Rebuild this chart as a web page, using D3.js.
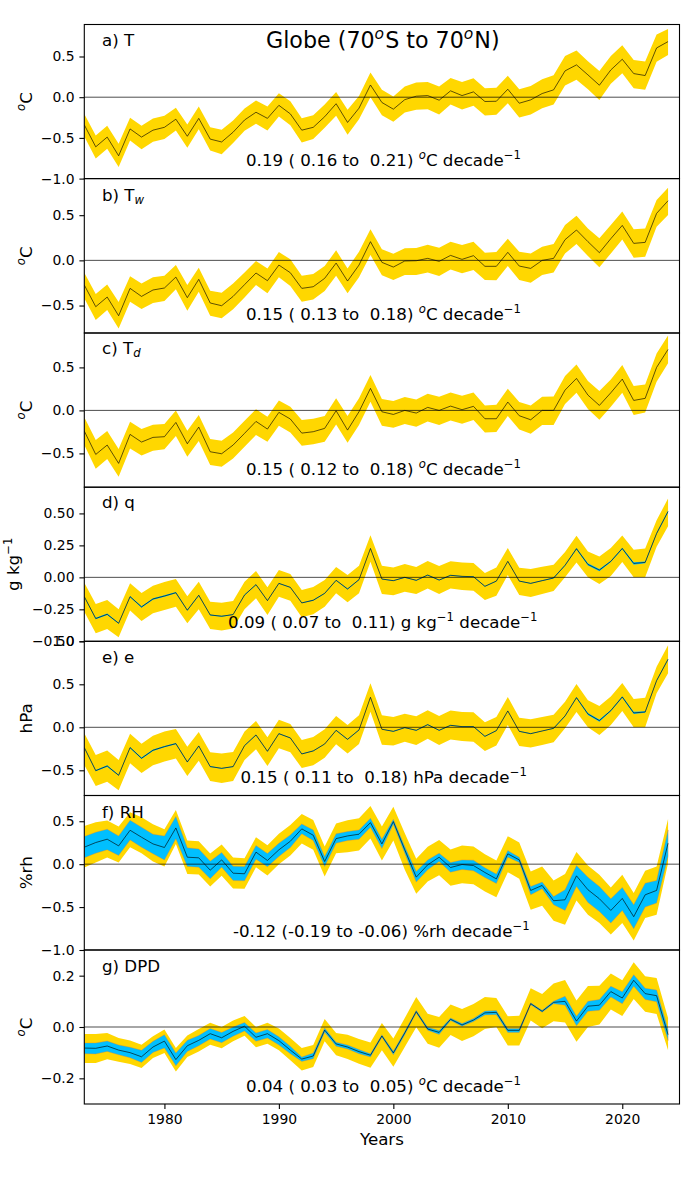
<!DOCTYPE html>
<html>
<head>
<meta charset="utf-8">
<script src="https://cdn.jsdelivr.net/npm/d3@7"></script>
<style>
  html, body { margin: 0; padding: 0; background: #fff; }
  text { font-family: "DejaVu Sans", sans-serif; fill: #000; }
</style>
</head>
<body>
<script>
// Read the data (1973-2024)
var years = d3.range(1973, 2025);
var xTicks = [1980, 1990, 2000, 2010, 2020];

// a) T
var aMid = [-0.34,-0.61,-0.49,-0.72,-0.39,-0.49,-0.405,-0.37,-0.27,-0.48,-0.26,-0.515,-0.55,-0.43,-0.28,-0.185,-0.26,-0.10,-0.205,-0.405,-0.37,-0.24,-0.08,-0.31,-0.135,0.15,-0.065,-0.147,-0.03,0.012,0.02,-0.037,0.078,0.02,0.065,-0.053,-0.05,0.098,-0.074,-0.033,0.045,0.09,0.323,0.397,0.274,0.147,0.335,0.466,0.29,0.266,0.605,0.683];
var aHi = [-0.205,-0.47,-0.352,-0.573,-0.254,-0.352,-0.262,-0.229,-0.131,-0.335,-0.115,-0.368,-0.40,-0.286,-0.139,-0.041,-0.115,0.049,-0.049,-0.258,-0.221,-0.09,0.065,-0.155,0.016,0.303,0.09,0.008,0.131,0.18,0.188,0.131,0.237,0.188,0.233,0.11,0.115,0.262,0.098,0.139,0.221,0.27,0.507,0.573,0.442,0.323,0.507,0.638,0.458,0.438,0.769,0.838];
var aLo = [-0.483,-0.753,-0.634,-0.859,-0.532,-0.638,-0.548,-0.515,-0.409,-0.622,-0.393,-0.654,-0.70,-0.564,-0.413,-0.327,-0.409,-0.237,-0.344,-0.556,-0.515,-0.376,-0.229,-0.462,-0.27,0,-0.221,-0.303,-0.188,-0.155,-0.147,-0.213,-0.09,-0.151,-0.106,-0.225,-0.217,-0.074,-0.25,-0.213,-0.135,-0.09,0.143,0.213,0.098,-0.033,0.164,0.294,0.11,0.09,0.434,0.519];

// b) Tw
var bMid = [-0.273,-0.513,-0.406,-0.613,-0.31,-0.399,-0.328,-0.306,-0.185,-0.413,-0.21,-0.472,-0.502,-0.399,-0.269,-0.14,-0.225,-0.052,-0.137,-0.31,-0.292,-0.199,-0.03,-0.229,-0.052,0.207,-0.022,-0.074,-0.007,-0.004,0.022,-0.011,0.055,0.011,0.052,-0.066,-0.066,0.089,-0.063,-0.089,0,0.022,0.229,0.336,0.207,0.085,0.24,0.387,0.188,0.199,0.52,0.66];
var bHi = [-0.137,-0.373,-0.266,-0.461,-0.177,-0.255,-0.188,-0.17,-0.052,-0.273,-0.081,-0.336,-0.358,-0.255,-0.133,-0.007,-0.089,0.092,0.011,-0.17,-0.151,-0.063,0.111,-0.089,0.096,0.343,0.122,0.074,0.133,0.137,0.173,0.14,0.207,0.17,0.207,0.085,0.092,0.24,0.096,0.077,0.151,0.181,0.391,0.494,0.354,0.244,0.391,0.542,0.343,0.354,0.668,0.804];
var bLo = [-0.42,-0.66,-0.55,-0.753,-0.458,-0.539,-0.472,-0.45,-0.321,-0.557,-0.347,-0.613,-0.642,-0.542,-0.41,-0.273,-0.365,-0.188,-0.284,-0.458,-0.432,-0.34,-0.17,-0.365,-0.188,0.059,-0.166,-0.218,-0.162,-0.162,-0.133,-0.173,-0.10,-0.144,-0.107,-0.218,-0.221,-0.063,-0.218,-0.247,-0.162,-0.133,0.077,0.181,0.048,-0.077,0.077,0.232,0.03,0.04,0.373,0.502];

// c) Td
var cMid = [-0.24,-0.512,-0.403,-0.616,-0.279,-0.368,-0.314,-0.306,-0.14,-0.388,-0.194,-0.481,-0.504,-0.403,-0.267,-0.128,-0.217,-0.023,-0.10,-0.264,-0.248,-0.209,-0.004,-0.229,-0.015,0.256,-0.016,-0.047,0,-0.031,0.035,0,0.05,0.008,0.047,-0.097,-0.097,0.097,-0.062,-0.109,0,0,0.236,0.372,0.178,0.058,0.205,0.364,0.116,0.14,0.5,0.709];
var cHi = [-0.081,-0.345,-0.24,-0.45,-0.132,-0.217,-0.167,-0.159,0,-0.236,-0.054,-0.333,-0.353,-0.256,-0.12,0.012,-0.074,0.116,0.043,-0.112,-0.097,-0.066,0.14,-0.066,0.14,0.411,0.132,0.109,0.155,0.128,0.194,0.159,0.209,0.171,0.209,0.058,0.066,0.252,0.097,0.058,0.159,0.163,0.399,0.535,0.341,0.225,0.36,0.527,0.283,0.302,0.663,0.872];
var cLo = [-0.403,-0.678,-0.566,-0.771,-0.442,-0.523,-0.469,-0.453,-0.298,-0.539,-0.357,-0.636,-0.655,-0.558,-0.422,-0.287,-0.364,-0.178,-0.256,-0.411,-0.395,-0.364,-0.163,-0.376,-0.171,0.101,-0.178,-0.202,-0.159,-0.19,-0.128,-0.171,-0.116,-0.155,-0.112,-0.256,-0.252,-0.066,-0.221,-0.271,-0.171,-0.171,0.074,0.205,0.016,-0.109,0.043,0.205,-0.054,-0.023,0.333,0.547];

// d) q
var dMid = [-0.151,-0.322,-0.289,-0.359,-0.151,-0.231,-0.169,-0.146,-0.12,-0.257,-0.14,-0.294,-0.304,-0.291,-0.138,-0.057,-0.182,-0.047,-0.078,-0.20,-0.179,-0.125,-0.023,-0.091,-0.018,0.226,-0.013,-0.026,0,-0.023,0.018,-0.021,0.016,0.008,0.005,-0.07,-0.029,0.125,-0.029,-0.047,-0.026,-0.005,0.094,0.224,0.101,0.057,0.125,0.226,0.109,0.117,0.343,0.515];
var dHi = [-0.042,-0.208,-0.177,-0.25,-0.047,-0.122,-0.065,-0.036,-0.013,-0.148,-0.034,-0.19,-0.198,-0.185,-0.034,0.049,-0.078,0.057,0.026,-0.099,-0.075,-0.021,0.081,0.018,0.091,0.33,0.091,0.078,0.104,0.081,0.127,0.088,0.125,0.117,0.112,0.034,0.078,0.229,0.075,0.065,0.083,0.099,0.198,0.325,0.203,0.164,0.229,0.328,0.216,0.226,0.447,0.616];
var dLo = [-0.268,-0.437,-0.403,-0.468,-0.26,-0.341,-0.281,-0.255,-0.229,-0.359,-0.25,-0.403,-0.416,-0.40,-0.25,-0.164,-0.294,-0.151,-0.182,-0.312,-0.289,-0.229,-0.125,-0.195,-0.125,0.122,-0.13,-0.14,-0.112,-0.13,-0.088,-0.13,-0.088,-0.099,-0.104,-0.177,-0.143,0.018,-0.138,-0.153,-0.13,-0.107,0,0.117,0,-0.052,0.01,0.12,0,0,0.24,0.40];
var dBlueHi = [-0.147,-0.316,-0.283,-0.355,-0.146,-0.225,-0.163,-0.14,-0.115,-0.253,-0.136,-0.29,-0.30,-0.288,-0.134,-0.054,-0.179,-0.044,-0.075,-0.197,-0.176,-0.122,-0.02,-0.088,-0.015,0.229,-0.01,-0.023,0.003,-0.02,0.021,-0.018,0.019,0.011,0.008,-0.067,-0.026,0.128,-0.026,-0.044,-0.023,-0.002,0.098,0.23,0.11,0.066,0.13,0.232,0.119,0.124,0.348,0.522];
var dBlueLo = [-0.155,-0.328,-0.295,-0.363,-0.156,-0.237,-0.175,-0.152,-0.125,-0.261,-0.144,-0.298,-0.308,-0.294,-0.142,-0.06,-0.185,-0.05,-0.081,-0.203,-0.182,-0.128,-0.026,-0.094,-0.021,0.223,-0.016,-0.029,-0.003,-0.026,0.015,-0.024,0.013,0.005,0.002,-0.073,-0.032,0.122,-0.032,-0.05,-0.029,-0.008,0.09,0.218,0.092,0.048,0.12,0.22,0.099,0.11,0.338,0.508];

// e) e
var eMid = [-0.236,-0.504,-0.45,-0.558,-0.236,-0.36,-0.267,-0.225,-0.19,-0.403,-0.217,-0.457,-0.477,-0.457,-0.213,-0.089,-0.279,-0.074,-0.124,-0.31,-0.275,-0.194,-0.035,-0.14,-0.031,0.349,-0.023,-0.047,-0.004,-0.035,0.031,-0.035,0.023,0.008,0.008,-0.105,-0.039,0.19,-0.047,-0.074,-0.043,-0.012,0.132,0.345,0.155,0.078,0.194,0.353,0.167,0.178,0.543,0.791];
var eHi = [-0.07,-0.322,-0.271,-0.38,-0.074,-0.19,-0.097,-0.05,-0.019,-0.225,-0.054,-0.291,-0.306,-0.287,-0.05,0.074,-0.116,0.089,0.039,-0.147,-0.112,-0.023,0.132,0.027,0.14,0.512,0.14,0.12,0.159,0.128,0.198,0.132,0.194,0.178,0.174,0.058,0.12,0.353,0.112,0.093,0.12,0.147,0.298,0.504,0.314,0.248,0.357,0.516,0.329,0.345,0.705,0.953];
var eLo = [-0.438,-0.682,-0.632,-0.733,-0.419,-0.531,-0.442,-0.399,-0.364,-0.566,-0.388,-0.624,-0.647,-0.624,-0.38,-0.256,-0.45,-0.244,-0.291,-0.473,-0.442,-0.353,-0.198,-0.306,-0.194,0.182,-0.202,-0.213,-0.167,-0.205,-0.132,-0.205,-0.143,-0.159,-0.167,-0.275,-0.213,0.027,-0.217,-0.236,-0.205,-0.174,-0.012,0.178,0,-0.089,0.027,0.19,0,0,0.395,0.628];
var eBlueHi = [-0.23,-0.496,-0.442,-0.552,-0.228,-0.352,-0.259,-0.217,-0.183,-0.397,-0.211,-0.451,-0.472,-0.452,-0.208,-0.085,-0.275,-0.07,-0.12,-0.306,-0.271,-0.19,-0.031,-0.136,-0.027,0.353,-0.019,-0.043,0,-0.031,0.035,-0.031,0.027,0.012,0.012,-0.101,-0.035,0.194,-0.043,-0.07,-0.039,-0.008,0.137,0.353,0.167,0.09,0.2,0.361,0.18,0.188,0.55,0.8];
var eBlueLo = [-0.242,-0.512,-0.458,-0.564,-0.244,-0.368,-0.275,-0.233,-0.197,-0.409,-0.223,-0.463,-0.482,-0.462,-0.218,-0.093,-0.283,-0.078,-0.128,-0.314,-0.279,-0.198,-0.039,-0.144,-0.035,0.345,-0.027,-0.051,-0.008,-0.039,0.027,-0.039,0.019,0.004,0.004,-0.109,-0.043,0.186,-0.051,-0.078,-0.047,-0.016,0.127,0.337,0.143,0.066,0.188,0.345,0.154,0.168,0.536,0.782];

// f) RH
var fMid = [0.198,0.252,0.291,0.213,0.395,0.314,0.236,0.194,0.422,0.081,0.074,-0.07,0.05,-0.105,-0.112,0.14,0.043,0.167,0.267,0.411,0.337,0.031,0.298,0.329,0.349,0.484,0.236,0.496,0.167,-0.151,-0.008,0.081,-0.039,-0.004,-0.016,-0.097,-0.171,0.12,0.05,-0.306,-0.248,-0.426,-0.415,-0.136,-0.298,-0.403,-0.539,-0.399,-0.612,-0.357,-0.306,0.244];
var fHi = [0.446,0.488,0.508,0.438,0.605,0.547,0.465,0.407,0.632,0.275,0.267,0.124,0.229,0.078,0.07,0.314,0.221,0.353,0.457,0.585,0.516,0.205,0.473,0.512,0.535,0.678,0.438,0.67,0.36,0.062,0.202,0.283,0.171,0.217,0.205,0.116,0.043,0.326,0.252,-0.085,-0.027,-0.19,-0.116,0.143,-0.016,-0.124,-0.271,-0.124,-0.337,-0.078,-0.027,0.527];
var fLo = [-0.039,0.019,0.078,0.019,0.198,0.128,0.031,-0.027,0.236,-0.116,-0.12,-0.26,-0.136,-0.283,-0.287,-0.035,-0.132,0,0.101,0.24,0.167,-0.143,0.128,0.14,0.159,0.298,0.043,0.275,-0.066,-0.345,-0.202,-0.128,-0.252,-0.221,-0.233,-0.318,-0.384,-0.093,-0.171,-0.531,-0.484,-0.659,-0.706,-0.423,-0.589,-0.686,-0.82,-0.686,-0.888,-0.628,-0.589,0.012];
var fBlueHi = [0.322,0.372,0.407,0.329,0.512,0.43,0.349,0.329,0.554,0.19,0.178,0.035,0.136,-0.023,-0.027,0.217,0.124,0.244,0.341,0.469,0.399,0.089,0.353,0.38,0.399,0.535,0.291,0.523,0.205,-0.085,0.05,0.128,0.019,0.05,0.047,-0.043,-0.116,0.159,0.081,-0.26,-0.209,-0.376,-0.298,-0.016,-0.151,-0.26,-0.403,-0.271,-0.473,-0.221,-0.19,0.399];
var fBlueLo = [0.074,0.128,0.167,0.101,0.283,0.198,0.12,0.05,0.295,-0.027,-0.035,-0.171,-0.035,-0.19,-0.194,0.058,-0.031,0.089,0.194,0.353,0.275,-0.027,0.244,0.275,0.291,0.43,0.182,0.465,0.128,-0.209,-0.066,0.031,-0.093,-0.062,-0.078,-0.155,-0.225,0.081,0.019,-0.357,-0.287,-0.473,-0.539,-0.26,-0.446,-0.55,-0.686,-0.539,-0.751,-0.50,-0.453,0.089];

// g) DPD
var gMid = [-0.082,-0.083,-0.074,-0.09,-0.10,-0.116,-0.078,-0.055,-0.127,-0.073,-0.052,-0.026,-0.042,-0.017,0.003,-0.04,-0.026,-0.053,-0.09,-0.125,-0.113,-0.012,-0.066,-0.078,-0.096,-0.11,-0.035,-0.101,-0.023,0.06,-0.008,-0.021,0.03,0.008,0.027,0.055,0.057,-0.013,-0.013,0.091,0.061,0.096,0.10,0.023,0.081,0.085,0.138,0.113,0.182,0.13,0.122,-0.03];
var gHi = [-0.027,-0.027,-0.023,-0.043,-0.053,-0.069,-0.036,-0.01,-0.082,-0.033,-0.008,0.017,0,0.025,0.043,0,0.017,-0.006,-0.043,-0.082,-0.07,0.031,-0.023,-0.03,-0.047,-0.06,0.016,-0.045,0.035,0.117,0.052,0.039,0.088,0.07,0.09,0.117,0.113,0.042,0.044,0.151,0.129,0.169,0.183,0.103,0.16,0.161,0.208,0.182,0.252,0.198,0.191,0.035];
var gLo = [-0.14,-0.14,-0.126,-0.135,-0.144,-0.16,-0.121,-0.101,-0.173,-0.117,-0.095,-0.069,-0.083,-0.056,-0.034,-0.079,-0.065,-0.091,-0.13,-0.169,-0.156,-0.056,-0.11,-0.125,-0.143,-0.159,-0.091,-0.155,-0.078,-0.001,-0.065,-0.081,-0.031,-0.055,-0.036,-0.008,0,-0.072,-0.072,0.025,-0.005,0.022,0.018,-0.057,0,0.01,0.068,0.043,0.109,0.059,0.051,-0.091];
var gBlueHi = [-0.062,-0.062,-0.055,-0.07,-0.079,-0.091,-0.056,-0.03,-0.101,-0.052,-0.033,-0.006,-0.021,0,0.018,-0.023,-0.01,-0.038,-0.075,-0.117,-0.101,-0.004,-0.059,-0.07,-0.088,-0.104,-0.03,-0.094,-0.017,0.065,-0.001,-0.014,0.035,0.014,0.033,0.062,0.064,-0.006,-0.006,0.094,0.065,0.10,0.12,0.042,0.10,0.107,0.159,0.137,0.204,0.151,0.144,-0.01];
var gBlueLo = [-0.104,-0.105,-0.095,-0.108,-0.12,-0.138,-0.099,-0.082,-0.151,-0.095,-0.073,-0.047,-0.061,-0.036,-0.016,-0.056,-0.043,-0.07,-0.104,-0.134,-0.124,-0.02,-0.075,-0.086,-0.104,-0.117,-0.04,-0.108,-0.03,0.055,-0.013,-0.029,0.025,0.003,0.021,0.047,0.048,-0.021,-0.021,0.087,0.057,0.091,0.085,0.005,0.061,0.065,0.117,0.091,0.159,0.107,0.098,-0.053];

// y limits and tick values of each panel
var aLim = [-1.0, 0.893], aTicks = [-1.0, -0.5, 0, 0.5];
var bLim = [-0.804, 0.905], bTicks = [-0.5, 0, 0.5];
var cLim = [-0.893, 0.9], cTicks = [-0.5, 0, 0.5];
var dLim = [-0.5, 0.705], dTicks = [-0.5, -0.25, 0, 0.25, 0.5];
var eLim = [-0.793, 1.0], eTicks = [-0.5, 0, 0.5, 1.0];
var fLim = [-1.0, 0.8], fTicks = [-1.0, -0.5, 0, 0.5];
var gLim = [-0.3, 0.3], gTicks = [-0.2, 0, 0.2];

// Set up size
var width = 700, height = 1200;
var left = 84.3, right = 679.5;
var tops = [24.5, 178.6, 333, 487.2, 641.3, 795.5, 950, 1104];

var sup = function(t) { return {t: t, sup: true}; };
var oC = [sup("o"), "C"];
var dec = [" decade", {t: "\u22121", sup: true, up: true}];

var panels = [
  {label: ["a) T"], unit: oC, mid: aMid, hi: aHi, lo: aLo, lim: aLim, ticks: aTicks, fmt: ".1f",
   trend: ["0.19 ( 0.16 to\u00a0 0.21) "].concat(oC, dec), tx: 246, ty: 166, ly: 46},
  {label: ["b) T", {t: "w", sub: true}], unit: oC, mid: bMid, hi: bHi, lo: bLo, lim: bLim, ticks: bTicks, fmt: ".1f",
   trend: ["0.15 ( 0.13 to\u00a0 0.18) "].concat(oC, dec), tx: 246, ty: 320, ly: 201},
  {label: ["c) T", {t: "d", sub: true}], unit: oC, mid: cMid, hi: cHi, lo: cLo, lim: cLim, ticks: cTicks, fmt: ".1f",
   trend: ["0.15 ( 0.12 to\u00a0 0.18) "].concat(oC, dec), tx: 246, ty: 475, ly: 354},
  {label: ["d) q"], unit: ["g kg", {t: "\u22121", sup: true, up: true}], mid: dMid, hi: dHi, lo: dLo, blueHi: dBlueHi, blueLo: dBlueLo, lim: dLim, ticks: dTicks, fmt: ".2f",
   trend: ["0.09 ( 0.07 to\u00a0 0.11) g kg", {t: "\u22121", sup: true, up: true}].concat(dec), tx: 228, ty: 628, ly: 508, unitX: 19},
  {label: ["e) e"], unit: ["hPa"], mid: eMid, hi: eHi, lo: eLo, blueHi: eBlueHi, blueLo: eBlueLo, lim: eLim, ticks: eTicks, fmt: ".1f",
   trend: ["0.15 ( 0.11 to\u00a0 0.18) hPa"].concat(dec), tx: 240.5, ty: 783, ly: 663},
  {label: ["f) RH"], unit: ["%rh"], mid: fMid, hi: fHi, lo: fLo, blueHi: fBlueHi, blueLo: fBlueLo, edge: true, lim: fLim, ticks: fTicks, fmt: ".1f",
   trend: ["-0.12 (-0.19 to -0.06) %rh"].concat(dec), tx: 233, ty: 937, ly: 818},
  {label: ["g) DPD"], unit: oC, mid: gMid, hi: gHi, lo: gLo, blueHi: gBlueHi, blueLo: gBlueLo, edge: true, lim: gLim, ticks: gTicks, fmt: ".1f",
   trend: ["0.04 ( 0.03 to\u00a0 0.05) "].concat(oC, dec), tx: 246, ty: 1092, ly: 972}
];

var svg = d3.select("body").append("svg")
  .attr("width", width)
  .attr("height", height)
  .style("display", "block");

var x = d3.scaleLinear().domain([1973, 2025]).range([left, right]);

// writes a mix of plain, super and subscript pieces into a text element
function addRuns(sel, runs, size, gap) {
  var back = 0;
  runs.forEach(function(r) {
    if (typeof r === "string") {
      sel.append("tspan").attr("dy", back).attr("dx", back ? (gap || 0) : 0).text(r);
      back = 0;
      return;
    }
    var shift = r.sup ? -0.42 * size : 0.15 * size;
    sel.append("tspan")
      .attr("dy", back + shift)
      .style("font-size", (size * 0.7) + "px")
      .style("font-style", r.up ? "normal" : "italic")
      .text(r.t);
    back = -shift;
  });
}

var tickFont = 13.9, textFont = 16.67;

panels.forEach(function(p, i) {
  var y0 = tops[i], y1 = tops[i + 1];
  var y = d3.scaleLinear().domain(p.lim).range([y1, y0]);
  var g = svg.append("g");

  var clipId = "clip" + i;
  g.append("clipPath").attr("id", clipId)
    .append("rect").attr("x", left).attr("y", y0).attr("width", right - left).attr("height", y1 - y0);
  var plot = g.append("g").attr("clip-path", "url(#" + clipId + ")");

  var band = function(hi, lo) {
    return d3.area().x(function(d, k) { return x(years[k]); })
      .y0(function(d, k) { return y(lo[k]); })
      .y1(function(d, k) { return y(hi[k]); })(years);
  };

  plot.append("path").attr("d", band(p.hi, p.lo)).attr("fill", "#ffd700");
  if (p.blueHi) {
    var blue = plot.append("path").attr("d", band(p.blueHi, p.blueLo)).attr("fill", "#00bfff");
    // thin orange rim where the next band peeks out from under the blue one
    if (p.edge) blue.attr("stroke", "#e8802a").attr("stroke-width", 0.5).attr("stroke-opacity", 0.7);
  }

  // zero line
  plot.append("line")
    .attr("x1", left).attr("x2", right)
    .attr("y1", y(0)).attr("y2", y(0))
    .attr("stroke", "#000").attr("stroke-width", 0.7);

  var line = d3.line().x(function(d, k) { return x(years[k]); }).y(function(d) { return y(d); });
  plot.append("path").attr("d", line(p.mid))
    .attr("fill", "none").attr("stroke", "#000").attr("stroke-width", 0.7).attr("stroke-opacity", 0.9);

  // frame
  g.append("rect")
    .attr("x", left).attr("y", y0)
    .attr("width", right - left).attr("height", y1 - y0)
    .attr("fill", "none").attr("stroke", "#000").attr("stroke-width", 1.1);

  // y axis
  var fmt = d3.format(p.fmt);
  var yAxis = g.append("g")
    .attr("transform", "translate(" + left + ",0)")
    .call(d3.axisLeft(y).tickValues(p.ticks).tickSize(4.9).tickPadding(4.9)
      .tickFormat(function(d) { return fmt(d).replace("-", "\u2212"); }));
  yAxis.select(".domain").remove();
  yAxis.selectAll("line").attr("stroke", "#000").attr("stroke-width", 1.1);
  yAxis.selectAll("text")
    .style("font-family", '"DejaVu Sans", sans-serif').style("font-size", tickFont + "px").attr("fill", "#000");

  // unit, centred along the panel
  var unitX = p.unitX || 32;
  var unit = g.append("text")
    .attr("transform", "translate(" + unitX + "," + ((y0 + y1) / 2) + ") rotate(-90)")
    .attr("text-anchor", "middle")
    .style("font-size", textFont + "px");
  addRuns(unit, p.unit, textFont);

  // panel label
  var lab = g.append("text")
    .attr("x", 102).attr("y", p.ly)
    .style("font-size", textFont + "px");
  addRuns(lab, p.label, textFont);

  // trend text
  var tr = g.append("text")
    .attr("x", p.tx).attr("y", p.ty)
    .style("font-size", textFont + "px");
  addRuns(tr, p.trend, textFont);
});

// x axis under the last panel
var xAxis = svg.append("g")
  .attr("transform", "translate(0," + tops[7] + ")")
  .call(d3.axisBottom(x).tickValues(xTicks).tickSize(4.9).tickPadding(4.9).tickFormat(d3.format("d")));
xAxis.select(".domain").remove();
xAxis.selectAll("line").attr("stroke", "#000").attr("stroke-width", 1.1);
xAxis.selectAll("text")
  .style("font-family", '"DejaVu Sans", sans-serif').style("font-size", tickFont + "px").attr("fill", "#000");

svg.append("text")
  .attr("x", (left + right) / 2).attr("y", 1145)
  .attr("text-anchor", "middle")
  .style("font-size", textFont + "px")
  .text("Years");

// title
var title = svg.append("text")
  .attr("x", 266).attr("y", 48)
  .style("font-size", "22.2px");
addRuns(title, ["Globe (70", sup("o"), "S to 70", sup("o"), "N)"], 22.2, 1);
</script>
</body>
</html>
